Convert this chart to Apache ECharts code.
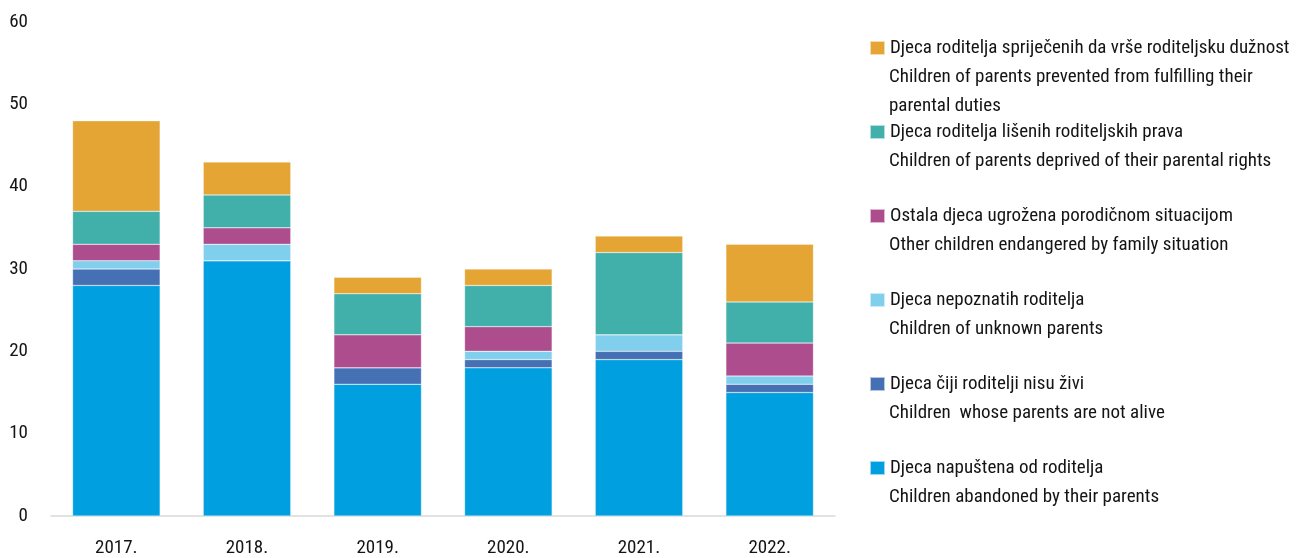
<!DOCTYPE html>
<html>
<head>
<meta charset="utf-8">
<script src="https://cdn.jsdelivr.net/npm/echarts@6/dist/echarts.min.js"></script>
<style>
html,body{margin:0;padding:0;background:#fff;}
#chart{width:1296px;height:558px;}
</style>
</head>
<body>
<div id="chart"></div>
<script>
const categories = ['2017.', '2018.', '2019.', '2020.', '2021.', '2022.'];
const abandoned = [28, 31, 16, 18, 19, 15];
const notAlive = [2, 0, 2, 1, 1, 1];
const unknownParents = [1, 2, 0, 1, 2, 1];
const otherEndangered = [2, 2, 4, 3, 0, 4];
const deprived = [4, 4, 5, 5, 10, 5];
const prevented = [11, 4, 2, 2, 2, 7];

const namesHr = [
  'Djeca roditelja spriječenih da vrše roditeljsku dužnost',
  'Djeca roditelja lišenih roditeljskih prava',
  'Ostala djeca ugrožena porodičnom situacijom',
  'Djeca nepoznatih roditelja',
  'Djeca čiji roditelji nisu živi',
  'Djeca napuštena od roditelja'
];
const namesEn = [
  ['Children of parents prevented from fulfilling their', 'parental duties'],
  ['Children of parents deprived of their parental rights'],
  ['Other children endangered by family situation'],
  ['Children of unknown parents'],
  ['Children  whose parents are not alive'],
  ['Children abandoned by their parents']
];
const colors = ['#E5A535', '#42B0AA', '#AE4D8E', '#80CFED', '#4670B4', '#00A0E0'];
const seriesData = [prevented, deprived, otherEndangered, unknownParents, notAlive, abandoned];

const FONT = "Roboto";
const STRETCH = 'condensed';
const FS = 19;
const TXT = '#141414';

// legend layout (line-1 centers)
const legendY = [48, 132, 216, 300, 384, 468];
const lineStep = 29;

const chart = echarts.init(document.getElementById('chart'));

// stacked bottom to top: abandoned ... prevented
const series = [];
for (let i = seriesData.length - 1; i >= 0; i--) {
  series.push({
    name: namesHr[i],
    type: 'bar',
    stack: 'total',
    data: seriesData[i],
    barCategoryGap: '33%',
    itemStyle: { color: colors[i], borderColor: 'rgba(255,255,255,0.6)', borderWidth: 0.5 },
    emphasis: { disabled: true }
  });
}

const legends = namesHr.map((n, i) => ({
  data: [n],
  left: 869,
  top: legendY[i] - 11,
  padding: 0,
  orient: 'vertical',
  icon: 'rect',
  itemWidth: 15,
  itemHeight: 14,
  selectedMode: false,
  textStyle: { fontFamily: FONT, fontWeight: STRETCH, fontSize: FS, color: TXT, lineHeight: 22 }
}));

const graphics = [];
namesEn.forEach((lines, i) => {
  lines.forEach((t, j) => {
    graphics.push({
      type: 'text',
      left: 889,
      top: legendY[i] + lineStep * (j + 1) - 11,
      style: { text: t, fontFamily: FONT, fontWeight: STRETCH, fontSize: FS, fill: TXT, lineHeight: 22 }
    });
  });
});

chart.setOption({
  animation: false,
  backgroundColor: '#fff',
  grid: { left: 51, right: 461, top: 22, bottom: 41, containLabel: false },
  legend: legends,
  graphic: graphics,
  xAxis: {
    type: 'category',
    data: categories,
    axisLine: { show: true, lineStyle: { color: '#d9d9d9', width: 1.5 } },
    axisTick: { show: false },
    axisLabel: { fontFamily: FONT, fontWeight: STRETCH, fontSize: FS, color: TXT, margin: 23 }
  },
  yAxis: {
    type: 'value',
    min: 0,
    max: 60,
    interval: 10,
    axisLine: { show: false },
    axisTick: { show: false },
    splitLine: { show: false },
    axisLabel: { fontFamily: FONT, fontWeight: STRETCH, fontSize: FS, color: TXT, margin: 23 }
  },
  series: series
});
</script>
</body>
</html>
